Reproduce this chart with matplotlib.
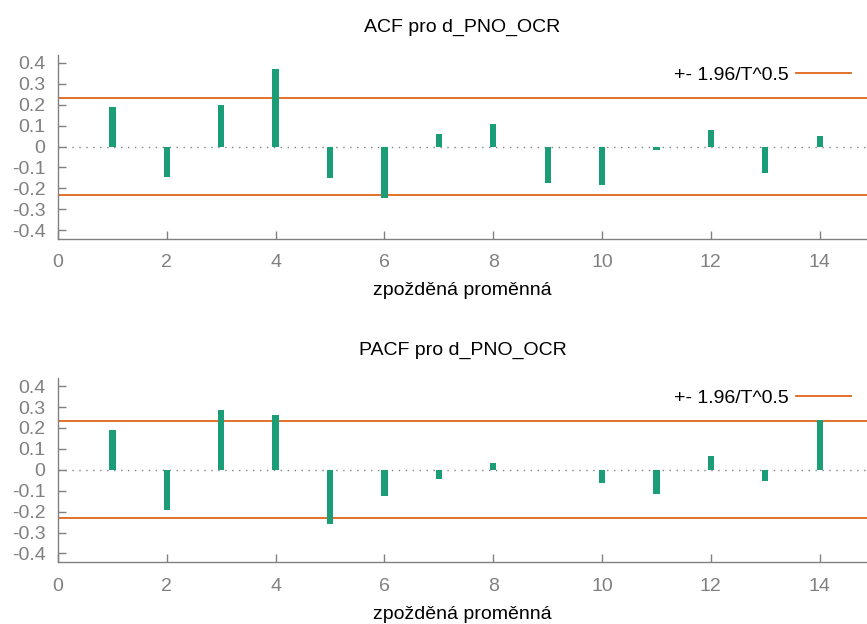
import numpy as np
import matplotlib
matplotlib.use('Agg')
import matplotlib.pyplot as plt

# lags and correlation values
lags = list(range(1, 15))
acf_vals = [0.189, -0.147, 0.197, 0.370, -0.150, -0.248, 0.058,
            0.109, -0.173, -0.182, -0.017, 0.077, -0.125, 0.050]
pacf_vals = [0.189, -0.191, 0.286, 0.261, -0.261, -0.125, -0.045,
             0.030, 0.0, -0.064, -0.114, 0.067, -0.053, 0.238]
conf_band = 0.2326  # 1.96/sqrt(T)

titles = ['ACF pro d_PNO_OCR', 'PACF pro d_PNO_OCR']
xlabel = 'zpožděná proměnná'
legend_label = '+- 1.96/T^0.5'

GREEN = '#1b9e77'
ORANGE = '#e0661a'
GREY = '#808080'
FS = 14

plt.rcParams['font.family'] = ['Liberation Sans', 'DejaVu Sans']

fig = plt.figure(figsize=(8.67, 6.24), dpi=100)
positions = [[0.0669, 0.617, 0.9331, 0.295], [0.0669, 0.099, 0.9331, 0.295]]

for pos, vals, title in zip(positions, [acf_vals, pacf_vals], titles):
    ax = fig.add_axes(pos)
    ax.bar(lags, vals, width=0.115, color=GREEN, zorder=3)
    ax.axhline(0, color=GREY, linestyle=(0, (1, 4)), linewidth=1, zorder=1)
    ax.axhline(conf_band, color=ORANGE, linewidth=1.3, zorder=2, label=legend_label)
    ax.axhline(-conf_band, color=ORANGE, linewidth=1.3, zorder=2)

    ax.set_xlim(0, 14.87)
    ax.set_ylim(-0.442, 0.438)
    ax.set_xticks(range(0, 15, 2))
    ax.set_yticks(np.arange(-0.4, 0.41, 0.1))
    ax.set_yticklabels(['-0.4', '-0.3', '-0.2', '-0.1', '0', '0.1', '0.2', '0.3', '0.4'])

    for s in ['top', 'right']:
        ax.spines[s].set_visible(False)
    for s in ['left', 'bottom']:
        ax.spines[s].set_color(GREY)
        ax.spines[s].set_linewidth(1)
    ax.tick_params(direction='in', colors=GREY, labelsize=FS, length=6, width=1)
    ax.tick_params(axis='x', pad=11)
    ax.tick_params(axis='y', pad=9)

    ax.set_title(title, fontsize=FS, pad=16.5)
    ax.set_xlabel(xlabel, fontsize=FS, labelpad=8)

    ax.legend(loc='center right', bbox_to_anchor=(0.980, 0.89), frameon=False,
              fontsize=FS, markerfirst=False, handlelength=2.8, handletextpad=0.4,
              borderpad=0, borderaxespad=0)

fig.savefig('out.png', dpi=100)
